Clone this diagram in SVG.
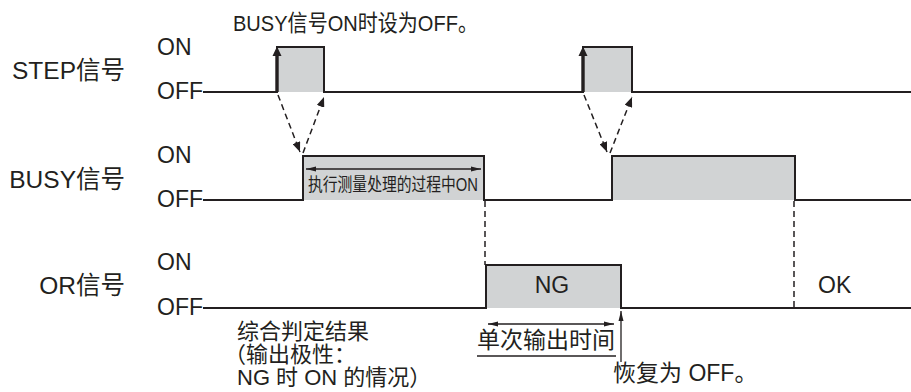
<svg xmlns="http://www.w3.org/2000/svg" width="911" height="392" viewBox="0 0 911 392">
<style>
text{font-family:"Liberation Sans","Noto Sans CJK SC",sans-serif;fill:#231f20}
.lbl{font-size:23px}
.name{font-size:24.5px}
.note{font-size:22px}
.sig{fill:none;stroke:#231f20;stroke-width:2;stroke-linejoin:miter}
.pulse{fill:#d1d3d4;stroke:none}
.dash{fill:none;stroke:#231f20;stroke-width:1.5;stroke-dasharray:6 4}
.thin{fill:none;stroke:#231f20;stroke-width:1.3}
</style>
<defs>
<marker id="ah" markerUnits="userSpaceOnUse" markerWidth="10" markerHeight="8" refX="10" refY="4" orient="auto-start-reverse" viewBox="0 0 10 8">
<path d="M0,0 L10,4 L0,8 Z" fill="#231f20"/>
</marker>
<marker id="ahs" markerUnits="userSpaceOnUse" markerWidth="10" markerHeight="6" refX="10" refY="3" orient="auto-start-reverse" viewBox="0 0 10 6">
<path d="M0,0.5 L10,3 L0,5.5 Z" fill="#231f20"/>
</marker>
</defs>

<g id="title">
<text x="233" y="31" font-size="22.5" textLength="245" lengthAdjust="spacingAndGlyphs">BUSY信号ON时设为OFF。</text>
</g>

<g id="step">
<text class="name" x="125" y="79" text-anchor="end">STEP信号</text>
<text class="lbl" x="157" y="55">ON</text>
<text class="lbl" x="157" y="99">OFF</text>
<rect class="pulse" x="277" y="47" width="47" height="45"/>
<rect class="pulse" x="583" y="47" width="49" height="45"/>
<path class="sig" d="M203,92 H277 V47 H324 V92 H583 V47 H632 V92 H911"/>
<path d="M275.3,92 V56 H272.5 L277,46.5 L281.5,56 H278.7 V92 Z" fill="#231f20"/>
<path d="M581.3,92 V56 H578.5 L583,46.5 L587.5,56 H584.7 V92 Z" fill="#231f20"/>
</g>

<g id="busy">
<text class="name" x="125" y="188" text-anchor="end">BUSY信号</text>
<text class="lbl" x="157" y="163">ON</text>
<text class="lbl" x="157" y="207">OFF</text>
<rect class="pulse" x="303" y="156" width="181" height="44"/>
<rect class="pulse" x="612" y="156" width="183" height="44"/>
<path class="sig" d="M203,200 H303 V156 H484 V200 H612 V156 H795 V200 H911"/>
<path class="thin" d="M306,169 H481" marker-start="url(#ahs)" marker-end="url(#ahs)"/>
<text x="308" y="191" font-size="18" textLength="170" lengthAdjust="spacingAndGlyphs">执行测量处理的过程中ON</text>
</g>

<g id="or">
<text class="name" x="125" y="294" text-anchor="end">OR信号</text>
<text class="lbl" x="157" y="270">ON</text>
<text class="lbl" x="157" y="315">OFF</text>
<rect class="pulse" x="486" y="265" width="135" height="43"/>
<path class="sig" d="M203,308 H486 V265 H621 V308 H911"/>
<text class="lbl" x="552" y="293" text-anchor="middle">NG</text>
<text class="lbl" x="818" y="293">OK</text>
</g>

<g id="notes">
<text class="note" x="237" y="339">综合判定结果</text>
<text class="note" x="224" y="362">（输出极性：</text>
<text class="note" x="237" y="385">NG 时 ON 的情况）</text>
<text class="lbl" x="477" y="348">单次输出时间</text>
<path class="thin" d="M477,356 H616"/>
<text class="lbl" x="613" y="381">恢复为 OFF。</text>
</g>

<g id="connectors">
<path class="dash" d="M278,95 L300,152" marker-end="url(#ah)"/>
<path class="dash" d="M303,153 L324,97" marker-end="url(#ah)"/>
<path class="dash" d="M584,95 L607,152" marker-end="url(#ah)"/>
<path class="dash" d="M610,153 L632,97" marker-end="url(#ah)"/>
<path class="dash" d="M485,201 V265"/>
<path class="dash" d="M794,201 V308"/>
<path class="thin" d="M488,324 H614" marker-start="url(#ahs)" marker-end="url(#ahs)"/>
<path class="thin" d="M621,362 V311" marker-end="url(#ahs)"/>
</g>
</svg>
